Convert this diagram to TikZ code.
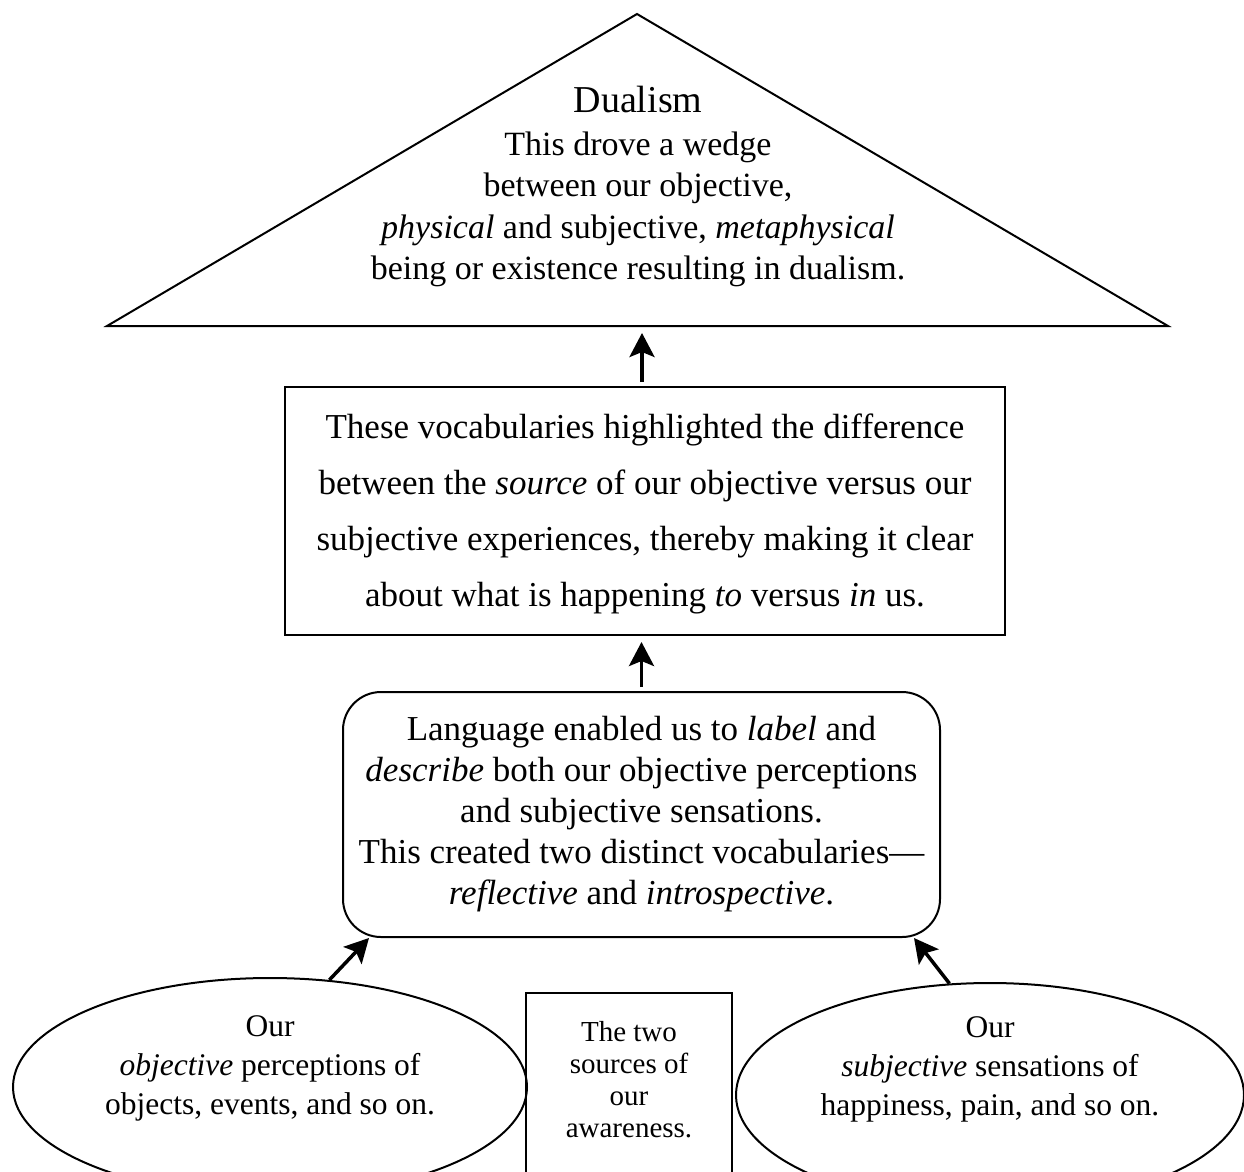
\documentclass[tikz,border=0pt]{standalone}
\usepackage{fontspec}
\setmainfont{Liberation Serif}
\usetikzlibrary{arrows.meta,shapes.geometric}
\begin{document}
\begin{tikzpicture}[x=1pt,y=-1pt,
  outline/.style={draw=black,line width=2pt},
  arr/.style={line width=3.5pt,-{Stealth[length=24pt,width=25pt,inset=5pt]}},
  txt/.style={align=center,inner sep=0pt}]
\useasboundingbox (0,0) rectangle (1244,1171);
\clip (0,0) rectangle (1244,1171);

% triangle
\coordinate (apex) at (637,14);
\coordinate (bl) at (107,326);
\coordinate (br) at (1168,326);
\coordinate (tb) at (642,326);
\draw[outline,line join=miter] (apex) -- (bl) -- (br) -- cycle;
\node[txt,font=\fontsize{34}{41.5}\selectfont] (dualT) at (638,186.5)
  {{\fontsize{38}{41.5}\selectfont Dualism}\\[1.5pt]
   This drove a wedge\\
   between our objective,\\
   \textit{physical} and subjective, \textit{metaphysical}\\
   being or existence resulting in dualism.};

% rectangle
\node[outline,minimum width=720pt,minimum height=248pt,inner sep=0pt] (vocab) at (645,511) {};
\node[txt,font=\fontsize{35}{56}\selectfont] (vocabT) at (645,514)
  {These vocabularies highlighted the difference\\
   between the \textit{source} of our objective versus our\\
   subjective experiences, thereby making it clear\\
   about what is happening \textit{to} versus \textit{in} us.};

% rounded box
\node[outline,txt,rounded corners=38pt,minimum width=597pt,minimum height=245pt,
      font=\fontsize{35}{41}\selectfont] (lang) at (641.5,814.5)
  {Language enabled us to \textit{label} and\\
   \textit{describe} both our objective perceptions\\
   and subjective sensations.\\
   This created two distinct vocabularies—\\
   \textit{reflective} and \textit{introspective}.};

% ellipses
\node[outline,ellipse,minimum width=514pt,minimum height=218pt,inner sep=0pt] (objE) at (270,1087) {};
\node[txt,font=\fontsize{31.5}{39}\selectfont] (objT) at (270,1068)
  {Our\\ \textit{objective} perceptions of\\ objects, events, and so on.};
\node[outline,ellipse,minimum width=508pt,minimum height=224pt,inner sep=0pt] (subE) at (990,1095) {};
\node[txt,font=\fontsize{31.5}{39}\selectfont] (subT) at (990,1069)
  {Our\\ \textit{subjective} sensations of\\ happiness, pain, and so on.};

% small box
\node[outline,minimum width=206pt,minimum height=200pt,inner sep=0pt,anchor=north] (srcB) at (629,992) {};
\node[txt,font=\fontsize{29}{32}\selectfont] (srcT) at (629,1080)
  {The two\\ sources of\\ our\\ awareness.};

% arrows
\draw[arr,shorten <=4pt,shorten >=7pt] (tb |- vocab.north) -- (tb);
\draw[arr,shorten <=4pt,shorten >=6pt] (lang.north) -- (lang.north |- vocab.south);
\draw[arr] (objE.61.5) -- ([xshift=27pt]lang.south west);
\draw[arr] (subE.110.4) -- ([xshift=-27pt]lang.south east);
\end{tikzpicture}
\end{document}
